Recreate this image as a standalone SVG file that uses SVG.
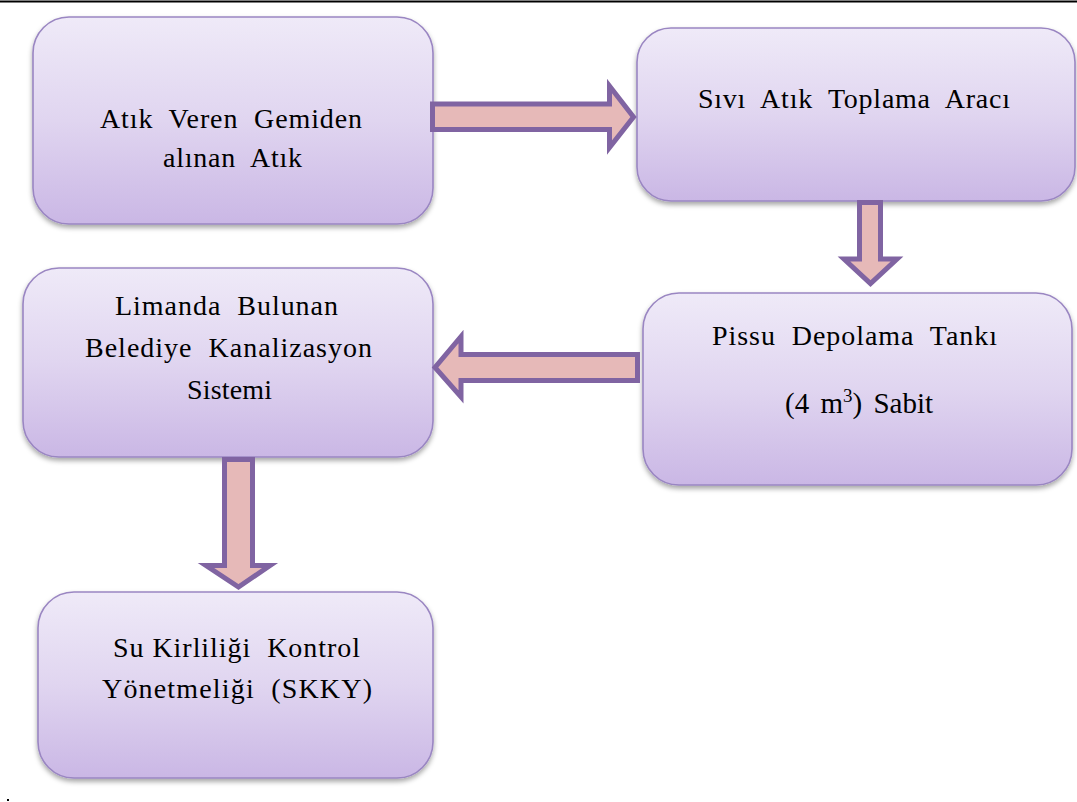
<svg xmlns="http://www.w3.org/2000/svg" width="1077" height="802" viewBox="0 0 1077 802">
  <defs>
    <linearGradient id="boxFill" x1="0" y1="0" x2="0" y2="1">
      <stop offset="0" stop-color="#efeaf8"/>
      <stop offset="0.5" stop-color="#e0d5f0"/>
      <stop offset="1" stop-color="#cab7e5"/>
    </linearGradient>
    <filter id="shadow" x="-10%" y="-10%" width="120%" height="125%">
      <feDropShadow dx="0" dy="3" stdDeviation="2.5" flood-color="#000" flood-opacity="0.35"/>
    </filter>
  </defs>
  <style>
    .box { fill: url(#boxFill); stroke: #9a86c2; stroke-width: 1.6; filter: url(#shadow); }
    .arrow { fill: #e6b9b8; stroke: #8064a2; stroke-width: 5; stroke-linejoin: miter; stroke-miterlimit: 10; }
    text { white-space: pre; }
  </style>

  <rect x="0" y="0.5" width="1077" height="2" fill="#000"/>

  <!-- process boxes -->
  <g id="node-atik-veren">
    <rect class="box" x="33" y="17" width="400" height="207" rx="36" ry="36"/>
    <text font-family="'Liberation Serif', serif" font-size="28" x="100" y="128" textLength="262" lengthAdjust="spacing" xml:space="preserve">Atık  Veren  Gemiden</text>
    <text font-family="'Liberation Serif', serif" font-size="28" x="163" y="167" textLength="139" lengthAdjust="spacing" xml:space="preserve">alınan  Atık</text>
  </g>

  <g id="node-sivi-atik">
    <rect class="box" x="637" y="28" width="438" height="173" rx="34" ry="34"/>
    <text font-family="'Liberation Serif', serif" font-size="28" x="698" y="108" textLength="312" lengthAdjust="spacing" xml:space="preserve">Sıvı  Atık  Toplama  Aracı</text>
  </g>

  <g id="node-pissu">
    <rect class="box" x="643" y="293" width="429" height="192" rx="36" ry="36"/>
    <text font-family="'Liberation Serif', serif" font-size="28" x="712" y="345" textLength="285" lengthAdjust="spacing" xml:space="preserve">Pissu  Depolama  Tankı</text>
    <text font-family="'Liberation Serif', serif" font-size="29" x="785" y="413" word-spacing="4">(4 m<tspan font-size="19" dy="-11">3</tspan><tspan dy="11">) Sabit</tspan></text>
  </g>

  <g id="node-limanda">
    <rect class="box" x="23" y="268" width="410" height="189" rx="36" ry="36"/>
    <text font-family="'Liberation Serif', serif" font-size="28" x="115" y="315" textLength="223" lengthAdjust="spacing" xml:space="preserve">Limanda  Bulunan</text>
    <text font-family="'Liberation Serif', serif" font-size="28" x="85" y="357" textLength="287" lengthAdjust="spacing" xml:space="preserve">Belediye  Kanalizasyon</text>
    <text font-family="'Liberation Serif', serif" font-size="28" x="187" y="399" textLength="85" lengthAdjust="spacing">Sistemi</text>
  </g>

  <g id="node-skky">
    <rect class="box" x="38" y="592" width="395" height="186" rx="36" ry="36"/>
    <text font-family="'Liberation Serif', serif" font-size="28" x="113" y="657" textLength="247" lengthAdjust="spacing" xml:space="preserve">Su Kirliliği  Kontrol</text>
    <text font-family="'Liberation Serif', serif" font-size="28" x="102" y="698" textLength="270" lengthAdjust="spacing" xml:space="preserve">Yönetmeliği  (SKKY)</text>
  </g>

  <!-- block arrows between the steps -->
  <g id="connectors">
    <path class="arrow" d="M432.5,104 H609.5 V86 L633.5,117 L609.5,147.5 V129.5 H432.5 Z"/>
    <path class="arrow" d="M859.5,202.5 H880.5 V259 H897 L870.5,283.5 L844,259 H859.5 Z"/>
    <path class="arrow" d="M637.5,354.5 V380.5 H461 V397 L435,367.5 L461,336.5 V354.5 Z"/>
    <path class="arrow" d="M224.5,459.5 H252.5 V565.5 H270 L238.5,587 L206,565.5 H224.5 Z"/>
  </g>

  <rect x="7" y="799" width="2" height="2" fill="#000"/>
</svg>
